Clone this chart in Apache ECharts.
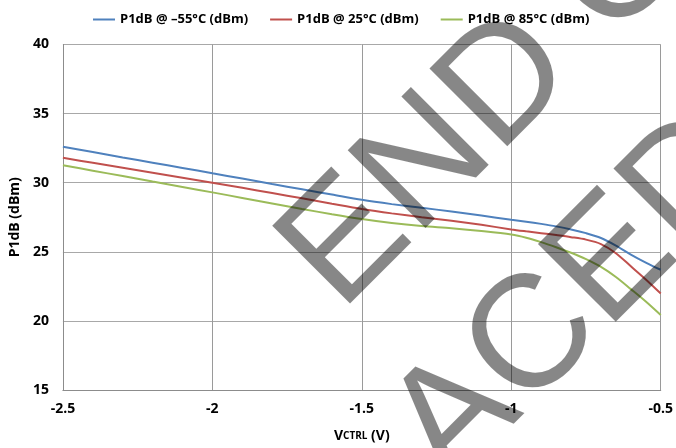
<!DOCTYPE html>
<html>
<head>
<meta charset="utf-8">
<script src="https://cdn.jsdelivr.net/npm/echarts@6/dist/echarts.min.js"></script>
<style>
html,body{margin:0;padding:0;background:#fff;}
#chart{width:676px;height:448px;}
</style>
</head>
<body>
<div id="chart"></div>
<script>
// Control voltage (V)
const vctrl = [-2.5,-2.4,-2.3,-2.2,-2.1,-2.0,-1.9,-1.8,-1.7,-1.6,-1.5,-1.4,-1.3,-1.2,-1.1,-1.0,-0.95,-0.9,-0.85,-0.8,-0.75,-0.7,-0.65,-0.6,-0.55,-0.5];
// P1dB (dBm)
const p1dbM55 = [32.6,32.22,31.83,31.45,31.07,30.68,30.3,29.9,29.52,29.14,28.76,28.45,28.18,27.92,27.62,27.32,27.18,27.02,26.84,26.62,26.35,26.0,25.45,24.8,24.22,23.7];
const p1dbP25 = [31.8,31.44,31.08,30.72,30.36,30.0,29.63,29.25,28.87,28.48,28.1,27.78,27.5,27.24,26.95,26.62,26.48,26.35,26.21,26.06,25.88,25.56,24.9,23.95,23.0,21.98];
const p1dbP85 = [31.26,30.87,30.48,30.08,29.69,29.3,28.9,28.5,28.1,27.72,27.37,27.08,26.86,26.7,26.5,26.25,26.02,25.7,25.33,24.93,24.47,23.91,23.18,22.3,21.4,20.42];
const seriesNames = ['P1dB @ \u201355\u00b0C (dBm)','P1dB @ 25\u00b0C (dBm)','P1dB @ 85\u00b0C (dBm)'];
const seriesColors = ['#4F81BD','#C0504D','#9BBB59'];
const watermark1 = 'END OF LIFE';
const watermark2 = 'REPLACED';

const pairs = ys => vctrl.map((x,i)=>[x, ys[i]]);
const allY = [p1dbM55, p1dbP25, p1dbP85];

const FONT = '"Open Sans", "Noto Sans", sans-serif';
const WM_FONT = '160px "Liberation Sans", Arial, sans-serif';
const chart = echarts.init(document.getElementById('chart'));
chart.setOption({
  animation:false,
  backgroundColor:'#fff',
  grid:{left:62,right:13,top:44.5,bottom:56,containLabel:false},
  legend:{
    top:8, left:88, padding:[5,5,5,5], itemWidth:22, itemHeight:2, itemGap:22,
    icon:'rect',
    textStyle:{fontFamily:FONT,fontWeight:'bold',fontSize:13,color:'#000'},
    data:seriesNames
  },
  xAxis:{
    type:'value',min:-2.5,max:-0.5,interval:0.5,
    axisLine:{show:true,lineStyle:{color:'#8c8c8c',width:1}},
    axisTick:{show:false},
    splitLine:{show:true,lineStyle:{color:'#9a9a9a',width:1}},
    axisLabel:{fontFamily:FONT,fontWeight:'bold',fontSize:14,color:'#000',margin:12},
    name:'{a|V}{b|CTRL}{a| (V)}',nameLocation:'middle',nameGap:39,
    nameTextStyle:{rich:{
      a:{fontFamily:FONT,fontWeight:'bold',fontSize:14,color:'#000'},
      b:{fontFamily:FONT,fontWeight:'bold',fontSize:10,color:'#000'}
    }}
  },
  yAxis:{
    type:'value',min:15,max:40,interval:5,
    axisLine:{show:true,lineStyle:{color:'#8c8c8c',width:1}},
    axisTick:{show:false},
    splitLine:{show:true,lineStyle:{color:'#a8a8a8',width:1}},
    axisLabel:{fontFamily:FONT,fontWeight:'bold',fontSize:14,color:'#000',margin:14},
    name:'P1dB (dBm)',nameLocation:'middle',nameGap:35,
    nameTextStyle:{fontFamily:FONT,fontWeight:'bold',fontSize:14,color:'#000'}
  },
  series: allY.map((ys,i)=>({
    name:seriesNames[i],type:'line',data:pairs(ys),
    smooth:0.3,symbol:'none',
    lineStyle:{color:seriesColors[i],width:2},
    itemStyle:{color:seriesColors[i]}
  })),
  graphic:[
    {type:'text',x:253,y:225,rotation:Math.PI/4,z:100,silent:true,
     style:{text:watermark1,font:WM_FONT,fill:'rgba(0,0,0,0.47)',textAlign:'left',textVerticalAlign:'top'}},
    {type:'text',x:66,y:696,rotation:Math.PI/4,z:100,silent:true,
     style:{text:watermark2,font:WM_FONT,fill:'rgba(0,0,0,0.47)',textAlign:'left',textVerticalAlign:'top'}}
  ]
});
</script>
</body>
</html>
